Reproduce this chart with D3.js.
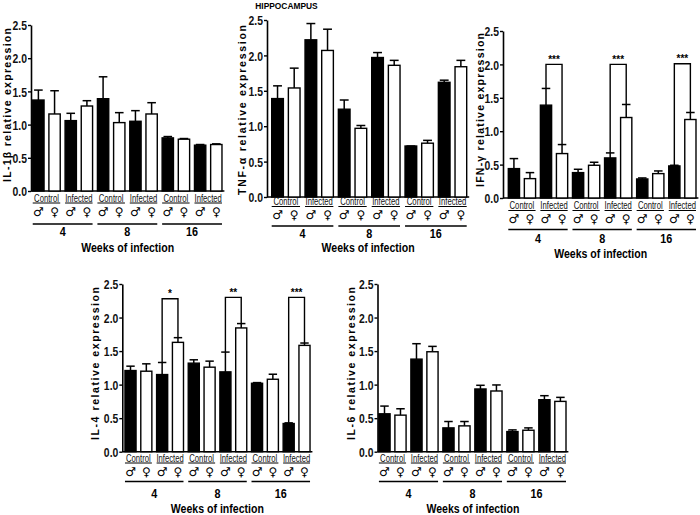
<!DOCTYPE html>
<html><head><meta charset="utf-8">
<script src="https://cdn.jsdelivr.net/npm/d3@7/dist/d3.min.js"></script>
<style>body{margin:0;background:#fff} svg{display:block}</style>
</head><body><svg id="c" width="700" height="515"></svg>
<script>
// ---------- data ----------
const weeks = ["4", "8", "16"];
const groups = ["Control", "Infected"];
const sexes = ["♂", "♀"];
const yTicks = [0, 0.5, 1, 1.5, 2, 2.5];

const il1bMean = [1.37, 1.16, 1.06, 1.28, 1.39, 1.03, 1.05, 1.16, 0.80, 0.78, 0.69, 0.70];
const il1bSem  = [0.15, 0.35, 0.11, 0.08, 0.33, 0.15, 0.16, 0.17, 0.02, 0.01, 0.01, 0.01];
const tnfMean  = [1.39, 1.54, 2.22, 2.07, 1.24, 0.97, 1.97, 1.86, 0.72, 0.76, 1.62, 1.84];
const tnfSem   = [0.18, 0.28, 0.23, 0.30, 0.13, 0.04, 0.07, 0.07, 0.00, 0.04, 0.03, 0.09];
const ifngMean = [0.44, 0.29, 1.39, 0.665, 0.38, 0.49, 0.60, 1.205, 0.285, 0.365, 0.48, 1.175];
const ifngSem  = [0.15, 0.09, 0.25, 0.135, 0.05, 0.045, 0.075, 0.195, 0.015, 0.04, 0.01, 0.105];
const il4Mean  = [1.21, 1.20, 1.15, 1.63, 1.32, 1.26, 1.19, 1.845, 1.02, 1.08, 0.42, 1.585];
const il4Sem   = [0.065, 0.11, 0.18, 0.07, 0.05, 0.09, 0.295, 0.065, 0.01, 0.075, 0.01, 0.035];
const il6Mean  = [0.565, 0.545, 1.38, 1.49, 0.355, 0.385, 0.935, 0.905, 0.30, 0.32, 0.775, 0.75];
const il6Sem   = [0.115, 0.095, 0.23, 0.08, 0.095, 0.065, 0.055, 0.09, 0.025, 0.035, 0.06, 0.06];

const ifngSig = [{week: "4", y: 2.0, label: "***"}, {week: "8", y: 2.0, label: "***"}, {week: "16", y: 2.01, label: "***"}];
const il4Sig  = [{week: "4", y: 2.28, label: "*"}, {week: "8", y: 2.30, label: "**"}, {week: "16", y: 2.30, label: "***"}];

const mainTitle = "HIPPOCAMPUS";
const xTitle = "Weeks of infection";

// ---------- layout ----------
const panels = [
  {label: "IL-1β relative expression", mean: il1bMean, sem: il1bSem, sig: [],
   x0: 30.3, x1: 224.4, axisX: 31, yBase: 191, yTop: 25, labX: 7, labY: 105, labLen: 154,
   ctrlY: 201.5, ulY: 203, symY: 212, glY: 224, weekY: 231.5, titleY: 247},
  {label: "TNF-α relative expression", mean: tnfMean, sem: tnfSem, sig: [],
   x0: 269.2, x1: 469.2, axisX: 267, yBase: 197, yTop: 20, labX: 242.5, labY: 110, labLen: 170,
   ctrlY: 205, ulY: 206.5, symY: 215, glY: 226, weekY: 233, titleY: 247},
  {label: "IFN-γ relative expression", mean: ifngMean, sem: ifngSem, sig: ifngSig,
   x0: 505.9, x1: 698.4, axisX: 503, yBase: 198, yTop: 31, labX: 480.5, labY: 110, labLen: 154,
   ctrlY: 209, ulY: 210.5, symY: 219, glY: 229.5, weekY: 238, titleY: 253},
  {label: "IL-4 relative expression", mean: il4Mean, sem: il4Sem, sig: il4Sig,
   x0: 122.6, x1: 312.4, axisX: 122.3, yBase: 451.7, yTop: 284, labX: 95.3, labY: 363.5, labLen: 153,
   ctrlY: 461.5, ulY: 463, symY: 472, glY: 481.5, weekY: 493.5, titleY: 508},
  {label: "IL-6 relative expression", mean: il6Mean, sem: il6Sem, sig: [],
   x0: 376.5, x1: 568.4, axisX: 377.5, yBase: 451.7, yTop: 284, labX: 351, labY: 363.5, labLen: 153,
   ctrlY: 461.5, ulY: 463, symY: 472, glY: 481.5, weekY: 493.5, titleY: 508}
];

const bars = weeks.flatMap(w => groups.flatMap(g => sexes.map(s => ({w, g, s, key: w + "|" + g + "|" + s}))));
const SANS = "'Liberation Sans',Arial,sans-serif";
const SQ = 0.8; // horizontal squeeze to mimic a narrow typeface

const svg = d3.select("#c");

function ntext(parent, x, y, str, size, bold, sq) {
  return parent.append("text")
    .attr("transform", `translate(${x},${y}) scale(${sq || SQ},1)`)
    .attr("text-anchor", "middle")
    .attr("font-family", SANS).attr("font-size", size)
    .attr("font-weight", bold ? "bold" : "normal")
    .text(str);
}

svg.append("text").attr("x", 286.5).attr("y", 8.5).attr("text-anchor", "middle")
  .attr("font-family", SANS).attr("font-weight", "bold").attr("font-size", 8.4)
  .text(mainTitle);

panels.forEach(p => {
  const g = svg.append("g");
  const x = d3.scaleBand().domain(bars.map(b => b.key)).range([p.x0, p.x1]).paddingInner(0.3).paddingOuter(0.15);
  const y = d3.scaleLinear().domain([0, 2.5]).range([p.yBase, p.yTop]);
  const bw = x.bandwidth();
  const cx = k => x(k) + bw / 2;
  const data = bars.map((b, i) => Object.assign({}, b, {m: p.mean[i], e: p.sem[i]}));

  // y axis
  const ax = g.append("g").attr("transform", `translate(${p.axisX},0)`)
    .call(d3.axisLeft(y).tickValues(yTicks).tickFormat(d3.format(".1f")).tickSize(3).tickSizeOuter(0).tickPadding(1));
  ax.select(".domain").attr("stroke", "#000").attr("stroke-width", 1.6);
  ax.selectAll(".tick line").attr("stroke", "#000").attr("stroke-width", 1.4);
  ax.selectAll(".tick text")
    .attr("x", null).attr("dy", "0.36em")
    .attr("transform", `translate(-4,0) scale(${SQ},1)`)
    .attr("font-family", SANS).attr("font-weight", "bold").attr("font-size", 13).attr("fill", "#111");

  // x axis line
  g.append("line").attr("x1", p.axisX).attr("x2", p.x1).attr("y1", p.yBase).attr("y2", p.yBase)
    .attr("stroke", "#000").attr("stroke-width", 1.6);

  // error bars
  const eg = g.append("g").attr("stroke", "#000").attr("stroke-width", 1.5);
  eg.selectAll("line.v").data(data.filter(d => d.e > 0)).join("line").attr("class", "v")
    .attr("x1", d => cx(d.key)).attr("x2", d => cx(d.key)).attr("y1", d => y(d.m)).attr("y2", d => y(d.m + d.e));
  eg.selectAll("line.c").data(data).join("line").attr("class", "c")
    .attr("x1", d => cx(d.key) - bw * 0.38).attr("x2", d => cx(d.key) + bw * 0.38)
    .attr("y1", d => y(d.m + d.e)).attr("y2", d => y(d.m + d.e));

  // bars
  g.selectAll("rect.bar").data(data).join("rect").attr("class", "bar")
    .attr("x", d => x(d.key)).attr("y", d => y(d.m)).attr("width", bw).attr("height", d => p.yBase - y(d.m))
    .attr("fill", d => d.s === "♂" ? "#000" : "#fff").attr("stroke", "#000").attr("stroke-width", 1.4);

  // significance brackets
  p.sig.forEach(s => {
    const mk = s.week + "|Infected|♂", fk = s.week + "|Infected|♀";
    const md = data.find(d => d.key === mk), fd = data.find(d => d.key === fk);
    g.append("path").attr("fill", "none").attr("stroke", "#000").attr("stroke-width", 1.4)
      .attr("d", `M${cx(mk)},${y(md.m + md.e)}V${y(s.y)}H${cx(fk)}V${y(fd.m + fd.e)}`);
    g.append("text").attr("x", (cx(mk) + cx(fk)) / 2).attr("y", y(s.y) - 1.5).attr("text-anchor", "middle")
      .attr("font-family", SANS).attr("font-weight", "bold").attr("font-size", 10).text(s.label);
  });

  // group labels (Control / Infected) with underline, week lines and numbers
  weeks.forEach(w => {
    groups.forEach(gr => {
      const k1 = w + "|" + gr + "|♂", k2 = w + "|" + gr + "|♀";
      const a = x(k1), b = x(k2) + bw;
      ntext(g, (a + b) / 2, p.ctrlY, gr, 10, false, 0.77).attr("fill", "#111");
      g.append("line").attr("x1", a).attr("x2", b).attr("y1", p.ulY).attr("y2", p.ulY)
        .attr("stroke", "#000").attr("stroke-width", 1);
    });
    const f = x(w + "|Control|♂"), l = x(w + "|Infected|♀") + bw;
    g.append("line").attr("x1", f).attr("x2", l).attr("y1", p.glY).attr("y2", p.glY)
      .attr("stroke", "#000").attr("stroke-width", 1.6);
    ntext(g, (f + l) / 2, p.weekY, w, 13.5, true).attr("dy", "0.35em");
  });

  // sex symbols
  g.selectAll("text.sym").data(data).join("text").attr("class", "sym")
    .attr("x", d => cx(d.key)).attr("y", p.symY).attr("dy", "0.35em").attr("text-anchor", "middle")
    .attr("font-family", "'DejaVu Sans',sans-serif").attr("font-size", 12).text(d => d.s);

  // x title
  ntext(g, (p.axisX + p.x1) / 2, p.titleY, xTitle, 13.2, true).attr("dy", "0.35em");

  // y title
  g.append("text").attr("transform", `translate(${p.labX},${p.labY}) rotate(-90)`).attr("dy", "0.35em")
    .attr("text-anchor", "middle").attr("font-family", SANS).attr("font-weight", "bold").attr("font-size", 10.5)
    .attr("textLength", p.labLen).attr("lengthAdjust", "spacing").text(p.label);
});
</script>
</body></html>
